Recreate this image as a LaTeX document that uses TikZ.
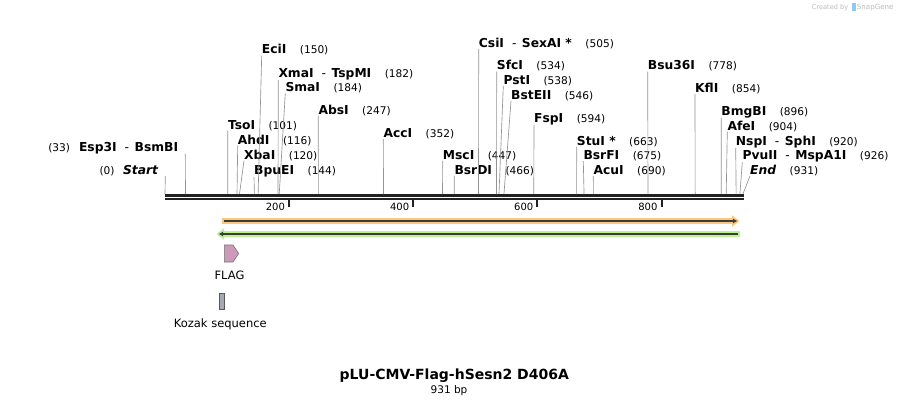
\documentclass[tikz,border=0pt]{standalone}
\usepackage{fontspec}
\setmainfont{DejaVu Sans}
\usetikzlibrary{arrows.meta}

\definecolor{cutgray}{HTML}{939393}
\definecolor{rulerdark}{HTML}{222222}
\definecolor{orafill}{HTML}{F9C87C}
\definecolor{grnfill}{HTML}{BDF290}
\definecolor{featdark}{HTML}{3C3C3C}
\definecolor{flagpink}{HTML}{CC9AB8}
\definecolor{kozakgray}{HTML}{A5A9B0}
\definecolor{creditgray}{HTML}{BBBBBB}
\definecolor{logoblue}{HTML}{8CCBEF}

% enzyme label pieces
\newcommand{\ename}[1]{{\fontsize{12.3}{14}\selectfont\bfseries #1}}
\newcommand{\enum}[1]{{\fontsize{10.6}{12}\selectfont (#1)}}
\newcommand{\enz}[2]{\ename{#1}\hspace{13.5pt}\enum{#2}}
\newcommand{\esep}{\hspace{8pt}{\fontsize{12.3}{14}\selectfont -}\hspace{5.5pt}}
\newcommand{\enzz}[3]{\ename{#1}\esep\ename{#2}\hspace{13.5pt}\enum{#3}}
\newcommand{\bpx}[1]{{165+0.6208*#1}}

\tikzset{
	enzlabel/.style  = {inner sep=0pt, anchor=base west},
	enzleft/.style   = {inner sep=0pt, anchor=base east},
	cut/.style       = {draw=cutgray, line width=0.65pt},
	ruler/.style     = {draw=rulerdark, line width=2.4pt},
	tick/.style      = {draw=rulerdark, line width=2pt},
	ticklabel/.style = {inner sep=0pt, anchor=base east, font=\fontsize{10}{12}\selectfont},
	featlabel/.style = {inner sep=0pt, anchor=base, font=\fontsize{11.5}{13}\selectfont},
	band/.style      = {line width=5.6pt},
	strand/.style    = {draw=featdark, line width=1.7pt},
}

\begin{document}
\begin{tikzpicture}[x=1pt, y=-1pt, >=Latex]
	\useasboundingbox[fill=white] (0,0) rectangle (909,404);

	% Draw the sequence ruler
	\coordinate (seqstart) at (165,195.3);
	\coordinate (seqend)   at (744,195.3);
	\draw[ruler] (seqstart) -- (seqend);
	\draw[ruler] ([yshift=-3.7pt]seqstart) -- ([yshift=-3.7pt]seqend);

	\coordinate (t200) at (\bpx{200},199);
	\coordinate (t400) at (\bpx{400},199);
	\coordinate (t600) at (\bpx{600},199);
	\coordinate (t800) at (\bpx{800},199);
	\draw[tick] (t200) -- ++(0,8);
	\draw[tick] (t400) -- ++(0,8);
	\draw[tick] (t600) -- ++(0,8);
	\draw[tick] (t800) -- ++(0,8);
	\node[ticklabel] (l200) at ([xshift=-4pt,yshift=-11.5pt]t200) {200};
	\node[ticklabel] (l400) at ([xshift=-4pt,yshift=-11.5pt]t400) {400};
	\node[ticklabel] (l600) at ([xshift=-4pt,yshift=-11.5pt]t600) {600};
	\node[ticklabel] (l800) at ([xshift=-4pt,yshift=-11.5pt]t800) {800};

	% Left hand labels
	\node[enzleft] (esp3I) at (178.3,151) {\enum{33}\hspace{9pt}\ename{Esp3I}\esep\ename{BsmBI}};
	\coordinate (esp3Icut) at (\bpx{33},194);
	\draw[cut] ([xshift=7pt]esp3I.south east) -- (esp3Icut);

	\node[enzleft] (start) at (158.3,174.3) {\enum{0}\hspace{8.5pt}\ename{\itshape Start}};
	\coordinate (startcut) at (\bpx{0},194);
	\draw[cut] ([xshift=7pt]start.south east) -- (startcut);

	% Restriction sites
	\node[enzlabel] (tsoI) at (227.8,129) {\enz{TsoI}{101}};
	\coordinate (tsoIcut) at (\bpx{101},194);
	\draw[cut] (tsoI.south west) -- (tsoIcut);

	\node[enzlabel] (ahdI) at (237.7,144) {\enz{AhdI}{116}};
	\coordinate (ahdIcut) at (\bpx{116},194);
	\draw[cut] (ahdI.south west) -- (ahdIcut);

	\node[enzlabel] (xbaI) at (244,159) {\enz{XbaI}{120}};
	\coordinate (xbaIcut) at (\bpx{120},194);
	\draw[cut] (xbaI.south west) -- (xbaIcut);

	\node[enzlabel] (bpuEI) at (254,174.3) {\enz{BpuEI}{144}};
	\coordinate (bpuEIcut) at (\bpx{144},194);
	\draw[cut] (bpuEI.south west) -- (bpuEIcut);

	\node[enzlabel] (eciI) at (261.7,54) {\enz{EciI}{150}};
	\coordinate (eciIcut) at (\bpx{150},194);
	\draw[cut] (eciI.south west) -- (eciIcut);

	\node[enzlabel] (xmaI) at (278.3,77.3) {\enzz{XmaI}{TspMI}{182}};
	\coordinate (xmaIcut) at (\bpx{182},194);
	\draw[cut] (xmaI.south west) -- (xmaIcut);

	\node[enzlabel] (smaI) at (285.3,91.7) {\enz{SmaI}{184}};
	\coordinate (smaIcut) at (\bpx{184},194);
	\draw[cut] (smaI.south west) -- (smaIcut);

	\node[enzlabel] (absI) at (318.3,114.3) {\enz{AbsI}{247}};
	\coordinate (absIcut) at (\bpx{247},194);
	\draw[cut] (absI.south west) -- (absIcut);

	\node[enzlabel] (accI) at (383.3,137.3) {\enz{AccI}{352}};
	\coordinate (accIcut) at (\bpx{352},194);
	\draw[cut] (accI.south west) -- (accIcut);

	\node[enzlabel] (mscI) at (442.7,159.3) {\enz{MscI}{447}};
	\coordinate (mscIcut) at (\bpx{447},194);
	\draw[cut] (mscI.south west) -- (mscIcut);

	\node[enzlabel] (bsrDI) at (454.3,174.3) {\enz{BsrDI}{466}};
	\coordinate (bsrDIcut) at (\bpx{466},194);
	\draw[cut] (bsrDI.south west) -- (bsrDIcut);

	\node[enzlabel] (csiI) at (478.7,47.3) {\enzz{CsiI}{SexAI *}{505}};
	\coordinate (csiIcut) at (\bpx{505},194);
	\draw[cut] (csiI.south west) -- (csiIcut);

	\node[enzlabel] (sfcI) at (496.7,70) {\enz{SfcI}{534}};
	\coordinate (sfcIcut) at (\bpx{534},194);
	\draw[cut] (sfcI.south west) -- (sfcIcut);

	\node[enzlabel] (pstI) at (503.3,84.3) {\enz{PstI}{538}};
	\coordinate (pstIcut) at (\bpx{538},194);
	\draw[cut] (pstI.south west) -- (pstIcut);

	\node[enzlabel] (bstEII) at (511,99.3) {\enz{BstEII}{546}};
	\coordinate (bstEIIcut) at (\bpx{546},194);
	\draw[cut] (bstEII.south west) -- (bstEIIcut);

	\node[enzlabel] (fspI) at (534,122.3) {\enz{FspI}{594}};
	\coordinate (fspIcut) at (\bpx{594},194);
	\draw[cut] (fspI.south west) -- (fspIcut);

	\node[enzlabel] (stuI) at (576.7,145) {\enz{StuI *}{663}};
	\coordinate (stuIcut) at (\bpx{663},194);
	\draw[cut] (stuI.south west) -- (stuIcut);

	\node[enzlabel] (bsrFI) at (583.3,159.5) {\enz{BsrFI}{675}};
	\coordinate (bsrFIcut) at (\bpx{675},194);
	\draw[cut] (bsrFI.south west) -- (bsrFIcut);

	\node[enzlabel] (acuI) at (593.3,174.3) {\enz{AcuI}{690}};
	\coordinate (acuIcut) at (\bpx{690},194);
	\draw[cut] (acuI.south west) -- (acuIcut);

	\node[enzlabel] (bsu36I) at (647.7,70) {\enz{Bsu36I}{778}};
	\coordinate (bsu36Icut) at (\bpx{778},194);
	\draw[cut] (bsu36I.south west) -- (bsu36Icut);

	\node[enzlabel] (kflI) at (695,92.3) {\enz{KflI}{854}};
	\coordinate (kflIcut) at (\bpx{854},194);
	\draw[cut] (kflI.south west) -- (kflIcut);

	\node[enzlabel] (bmgBI) at (721.2,115) {\enz{BmgBI}{896}};
	\coordinate (bmgBIcut) at (\bpx{896},194);
	\draw[cut] (bmgBI.south west) -- (bmgBIcut);

	\node[enzlabel] (afeI) at (727.3,130) {\enz{AfeI}{904}};
	\coordinate (afeIcut) at (\bpx{904},194);
	\draw[cut] (afeI.south west) -- (afeIcut);

	\node[enzlabel] (nspI) at (735.7,145) {\enzz{NspI}{SphI}{920}};
	\coordinate (nspIcut) at (\bpx{920},194);
	\draw[cut] (nspI.south west) -- (nspIcut);

	\node[enzlabel] (pvuII) at (742.3,159.5) {\enzz{PvuII}{MspA1I}{926}};
	\coordinate (pvuIIcut) at (\bpx{926},194);
	\draw[cut] (pvuII.south west) -- (pvuIIcut);

	\node[enzlabel] (end) at (750,174.3) {\enz{\itshape End}{931}};
	\coordinate (endcut) at (\bpx{931},194);
	\draw[cut] (end.south west) -- (endcut);

	% Features
	\coordinate (oraL) at (222,221);
	\coordinate (oraR) at (739.5,221);
	\draw[band, orafill, -{Triangle[length=7.5pt,width=11pt]}] (oraL) -- (oraR);
	\draw[strand, -{Latex[length=4.5pt,width=5pt]}] ([xshift=2pt]oraL) -- ([xshift=-2pt]oraR);

	\coordinate (grnR) at (740,234);
	\coordinate (grnL) at (216.5,234);
	\draw[band, grnfill, -{Triangle[length=7.5pt,width=11pt]}] (grnR) -- (grnL);
	\draw[strand, -{Latex[length=4.5pt,width=5pt]}] ([xshift=-2pt]grnR) -- ([xshift=2pt]grnL);

	\draw[draw=black!55, fill=flagpink, line width=0.6pt]
		(224.3,245) -- (233,245) -- (238.7,253.5) -- (233,262) -- (224.3,262) -- cycle;
	\node[featlabel] (flag) at (229.5,279.3) {FLAG};

	\draw[draw=black!65, fill=kozakgray, line width=0.6pt] (219.2,293.3) rectangle (224,309);
	\node[featlabel] (kozak) at (220.3,327.5) {Kozak sequence};

	% Title
	\node[inner sep=0pt, anchor=base, font=\fontsize{14}{16}\selectfont\bfseries] (title) at (454.3,379.5) {pLU-CMV-Flag-hSesn2 D406A};
	\node[inner sep=0pt, anchor=base, font=\fontsize{10.5}{12}\selectfont] (length) at (449,393.5) {931 bp};

	% Credit
	\node[inner sep=0pt, anchor=base west, text=creditgray, font=\fontsize{6.6}{8}\selectfont] (credit) at (811.7,10) {Created by};
	\fill[logoblue] (852,3.5) rectangle (855.5,11.5);
	\node[inner sep=0pt, anchor=base west, text=creditgray, font=\fontsize{7.1}{8}\selectfont] (snapgene) at (856.7,10) {SnapGene};
\end{tikzpicture}
\end{document}
